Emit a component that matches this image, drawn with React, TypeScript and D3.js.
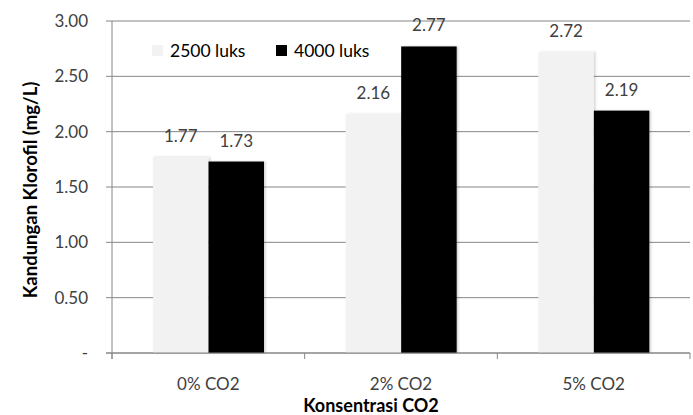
import * as d3 from 'd3';

const categories = ['0% CO2', '2% CO2', '5% CO2'];
const series = [
  { key: '2500 luks', color: '#f2f2f2' },
  { key: '4000 luks', color: '#000000' },
];
const lux2500 = [1.77, 2.16, 2.72];
const lux4000 = [1.73, 2.77, 2.19];
const yTicks = [0, 0.5, 1, 1.5, 2, 2.5, 3];

const W = 693;
const H = 415;
const FONT = 'Lato, "Open Sans", sans-serif';
const TXT = '#404040';
const GRID = '#868686';

export default function App() {
  const left = 112;
  const right = 690;
  const top = 21;
  const bottom = 353;

  const x0 = d3.scaleBand<string>().domain(categories).range([left, right]);
  const x1 = d3.scaleBand<string>().domain(series.map(s => s.key))
    .range([41, 152]);
  const y = d3.scaleLinear().domain([0, 3]).range([bottom, top]);
  const vals = [lux2500, lux4000];
  const fmt = d3.format('.2f');

  return (
    <svg width={W} height={H} style={{ position: 'absolute', left: 0, top: 0 }}>
      <defs>
        <filter id="sh" x="-10%" y="-10%" width="130%" height="120%">
          <feDropShadow dx="1.5" dy="0" stdDeviation="1.2" floodColor="#000" floodOpacity="0.18" />
        </filter>
      </defs>
      <rect width={W} height={H} fill="#fff" />
      {/* gridlines */}
      {yTicks.map(t => (
        <g key={t}>
          <line x1={left - 6} x2={right} y1={y(t)} y2={y(t)} stroke={GRID} strokeWidth={1} />
          <text x={88} y={y(t)} dy="0.36em" textAnchor="end" fontFamily={FONT}
            fontSize={17} fill={TXT}>{t === 0 ? '-' : fmt(t)}</text>
        </g>
      ))}
      {/* bars */}
      {categories.map((c, i) => (
        <g key={c} transform={`translate(${x0(c)},0)`}>
          {series.map((s, j) => {
            const v = vals[j][i];
            const bx = x1(s.key)!;
            return (
              <g key={s.key}>
                <rect x={bx} y={y(v)} width={x1.bandwidth()} height={bottom - y(v)}
                  fill={s.color} filter="url(#sh)" />
                <text x={bx + x1.bandwidth() / 2} y={y(v) - 15} textAnchor="middle"
                  fontFamily={FONT} fontSize={17} fill={TXT}>{fmt(v)}</text>
              </g>
            );
          })}
        </g>
      ))}
      {/* axes */}
      <line x1={left} x2={left} y1={top} y2={bottom + 6} stroke={GRID} />
      <line x1={left - 6} x2={right} y1={bottom} y2={bottom} stroke={GRID} />
      {[...categories.map(c => x0(c)!), right].map((tx, i) => (
        <line key={i} x1={tx} x2={tx} y1={bottom} y2={bottom + 6} stroke={GRID} />
      ))}
      {categories.map(c => (
        <text key={c} x={x0(c)! + x0.bandwidth() / 2} y={390} textAnchor="middle"
          fontFamily={FONT} fontSize={17} fill={TXT}>{c}</text>
      ))}
      <text x={371} y={412} textAnchor="middle" fontFamily={FONT} fontSize={18}
        fontWeight="bold" fill="#000">Konsentrasi CO2</text>
      <text transform={`translate(37,190) rotate(-90)`} textAnchor="middle"
        fontFamily={FONT} fontSize={18.5} fontWeight="bold" fill="#000">
        Kandungan Klorofil (mg/L)
      </text>
      {/* legend */}
      {series.map((s, i) => {
        const lx = [152, 276][i];
        return (
          <g key={s.key}>
            <rect x={lx} y={45} width={11} height={11} fill={s.color} />
            <text x={lx + 18} y={50.5} dy="0.36em" fontFamily={FONT} fontSize={17.5}
              fill="#000">{s.key}</text>
          </g>
        );
      })}
    </svg>
  );
}
